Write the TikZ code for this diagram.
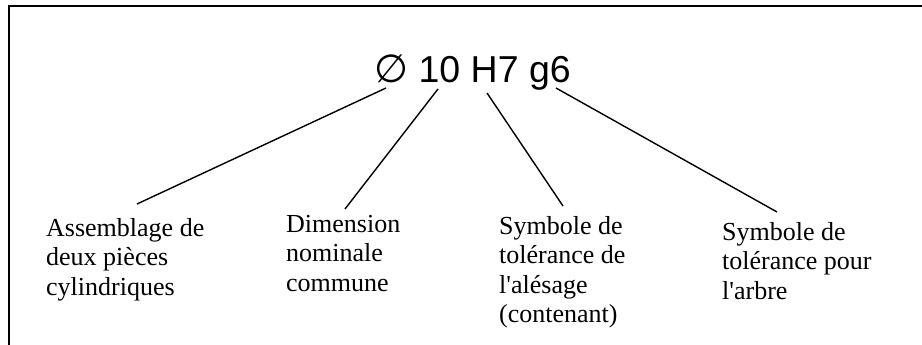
\documentclass[tikz,border=0pt]{standalone}
\usepackage{fontspec}
\setmainfont{Liberation Serif}[Ligatures=TeXOff]
\newfontfamily\titlefont{Liberation Sans}
\newfontfamily\symfont{DejaVu Sans}
% first-line strut height for 26/29.5 text: 0.7 * 29.5pt
\newcommand{\firstdrop}{20.65}
\begin{document}
\begin{tikzpicture}[x=1pt,y=-1pt,
  frameline/.style={line width=2pt,line cap=rect},
  leader/.style={line width=1.4pt},
  caption/.style={anchor=north west,inner sep=0pt,align=left,
    font=\fontsize{26}{29.5}\selectfont},
  titletext/.style={anchor=base west,inner sep=0pt,
    font=\titlefont\fontsize{37.5}{42}\selectfont}]
  \useasboundingbox (0,0) rectangle (922,345);
  % open frame: top rule and left rule
  \draw[frameline] (9,345) -- (9,6.5) -- (922,6.5);

  % the fit designation
  \node[titletext] (fit) at (374,83) {{\symfont\fontsize{39}{42}\selectfont ∅} 10 H7 g6};

  % captions (y given as first baseline minus strut height)
  \node[caption] (c1) at (46,236-\firstdrop) {\strut Assemblage de\\deux pièces\\cylindriques};
  \node[caption] (c2) at (286,232-\firstdrop) {\strut Dimension\\nominale\\commune};
  \node[caption] (c3) at (499,234-\firstdrop) {\strut Symbole de\\tolérance de\\l'alésage\\(contenant)};
  \node[caption] (c4) at (722,240-\firstdrop) {\strut Symbole de\\tolérance pour\\l'arbre};

  % leader end points
  \coordinate (t1) at (386,88);
  \coordinate (t2) at (438,89);
  \coordinate (t3) at (487,93);
  \coordinate (t4) at (556,88);
  \coordinate (e1) at (137,204);
  \coordinate (e2) at (345,209);
  \coordinate (e3) at (563,206);
  \coordinate (e4) at (777,212);

  \draw[leader] (t1) -- (e1);
  \draw[leader] (t2) -- (e2);
  \draw[leader] (t3) -- (e3);
  \draw[leader] (t4) -- (e4);
\end{tikzpicture}
\end{document}
